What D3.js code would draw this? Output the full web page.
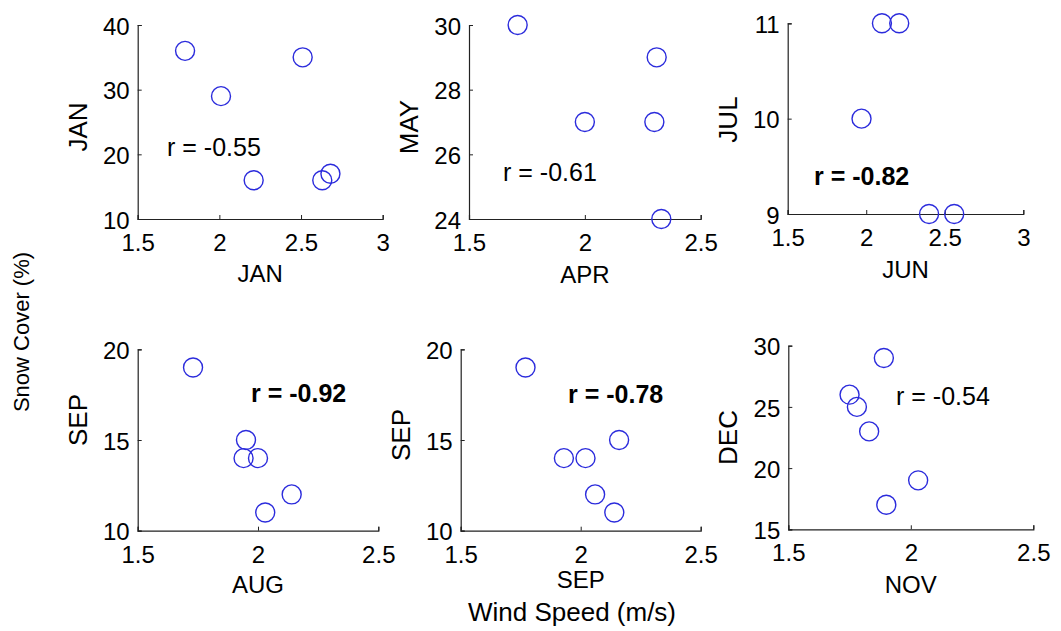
<!DOCTYPE html>
<html>
<head>
<meta charset="utf-8">
<script src="https://cdn.jsdelivr.net/npm/d3@7"></script>
<style>
  html, body { margin: 0; padding: 0; background: #ffffff; }
  svg { display: block; }
  text { font-family: Arial, "Liberation Sans", Helvetica, sans-serif; fill: #000; }
</style>
</head>
<body>
<svg id="chart" width="1061" height="631"></svg>
<script>
// ---------------- DATA ----------------
const xLabels = ["JAN", "APR", "JUN", "AUG", "SEP", "NOV"];
const yLabels = ["JAN", "MAY", "JUL", "SEP", "SEP", "DEC"];
const rTexts  = ["r = -0.55", "r = -0.61", "r = -0.82", "r = -0.92", "r = -0.78", "r = -0.54"];
const rBold   = [false, false, true, true, true, false];

// wind speed (x) and snow cover (y) per panel
const windJan = [1.79, 2.01, 2.51, 2.21, 2.63, 2.68];
const snowJan = [36, 29, 35, 16, 16, 17];
const windApr = [1.71, 2.31, 2.00, 2.30, 2.33];
const snowMay = [30, 29, 27, 27, 24];
const windJun = [2.10, 2.21, 1.97, 2.40, 2.56];
const snowJul = [11, 11, 10, 9, 9];
const windAug = [1.73, 1.95, 1.94, 2.00, 2.14, 2.03];
const snowSepA = [19, 15, 14, 14, 12, 11];
const windSep = [1.77, 2.16, 1.93, 2.02, 2.06, 2.14];
const snowSepB = [19, 15, 14, 14, 12, 11];
const windNov = [1.89, 1.75, 1.78, 1.83, 2.03, 1.90];
const snowDec = [29, 26, 25, 23, 19, 17];

const xDomains = [[1.5, 3], [1.5, 2.5], [1.5, 3], [1.5, 2.5], [1.5, 2.5], [1.5, 2.5]];
const yDomains = [[10, 40], [24, 30], [9, 11], [10, 20], [10, 20], [15, 30]];
const xTickVals = [[1.5, 2, 2.5, 3], [1.5, 2, 2.5], [1.5, 2, 2.5, 3], [1.5, 2, 2.5], [1.5, 2, 2.5], [1.5, 2, 2.5]];
const yTickVals = [[10, 20, 30, 40], [24, 26, 28, 30], [9, 10, 11], [10, 15, 20], [10, 15, 20], [15, 20, 25, 30]];

const xSeries = [windJan, windApr, windJun, windAug, windSep, windNov];
const ySeries = [snowJan, snowMay, snowJul, snowSepA, snowSepB, snowDec];

const xTitle = "Wind Speed (m/s)";
const yTitle = "Snow Cover (%)";

// ---------------- LAYOUT ----------------
const boxes = [
  {x0: 137.7, x1: 382.7, y0: 25,    y1: 219},
  {x0: 469,   x1: 700.7, y0: 25,    y1: 219},
  {x0: 787.7, x1: 1023.3, y0: 23.3, y1: 214},
  {x0: 137.7, x1: 378.3, y0: 349.3, y1: 530.7},
  {x0: 460.7, x1: 700.7, y0: 349.3, y1: 530.7},
  {x0: 788.3, x1: 1033.3, y0: 345.7, y1: 529.3}
];
const rPos = [[167, 156], [503, 181], [814, 185], [251, 402], [568, 403], [896, 405]];
const yLabCenter = [127, 127, 119.5, 420, 435, 437.5];
const xLabOffset = [63, 64, 64, 62, 57, 64];

const svg = d3.select("#chart");
const axisColor = "#222";
const tickFont = 24, labFont = 24, yLabFont = 26, rFont = 25;

boxes.forEach((b, i) => {
  const x = d3.scaleLinear().domain(xDomains[i]).range([b.x0, b.x1]);
  const y = d3.scaleLinear().domain(yDomains[i]).range([b.y1, b.y0]);
  const g = svg.append("g");

  const xAxis = d3.axisBottom(x).tickValues(xTickVals[i]).tickSize(-4).tickPadding(0).tickFormat(d3.format("~g"));
  const yAxis = d3.axisLeft(y).tickValues(yTickVals[i]).tickSize(-4).tickPadding(0).tickFormat(d3.format("~g"));

  const gx = g.append("g").attr("transform", `translate(0,${b.y1})`).call(xAxis);
  const gy = g.append("g").attr("transform", `translate(${b.x0},0)`).call(yAxis);

  [gx, gy].forEach(a => {
    a.select(".domain").attr("stroke", axisColor).attr("stroke-width", 1.2);
    a.selectAll(".tick line").attr("stroke", axisColor).attr("stroke-width", 1);
    a.selectAll(".tick text").attr("font-size", tickFont)
      .attr("font-family", "Arial, 'Liberation Sans', sans-serif").attr("fill", "#000");
  });
  gx.selectAll(".tick text").attr("y", 32).attr("dy", null);
  gy.selectAll(".tick text").attr("x", -8).attr("dy", "0.38em");

  // points
  g.selectAll("circle").data(xSeries[i].map((v, k) => [v, ySeries[i][k]]))
    .enter().append("circle")
    .attr("cx", d => x(d[0])).attr("cy", d => y(d[1])).attr("r", 9.5)
    .attr("fill", "none").attr("stroke", "#2b2bdc").attr("stroke-width", 1.4);

  // r text
  g.append("text").attr("x", rPos[i][0]).attr("y", rPos[i][1])
    .attr("font-size", rFont).attr("font-weight", rBold[i] ? "bold" : "normal")
    .text(rTexts[i]);

  // x label
  g.append("text").attr("x", (b.x0 + b.x1) / 2).attr("y", b.y1 + xLabOffset[i])
    .attr("text-anchor", "middle").attr("font-size", labFont).text(xLabels[i]);

  // y label
  g.append("text")
    .attr("transform", `translate(${b.x0 - 51},${yLabCenter[i]}) rotate(-90)`)
    .attr("text-anchor", "middle").attr("font-size", yLabFont).text(yLabels[i]);
});

// global titles
svg.append("text").attr("x", 572).attr("y", 621).attr("text-anchor", "middle")
  .attr("font-size", 26).text(xTitle);
svg.append("text").attr("transform", "translate(29,332) rotate(-90)")
  .attr("text-anchor", "middle").attr("font-size", 22).text(yTitle);
</script>
</body>
</html>
